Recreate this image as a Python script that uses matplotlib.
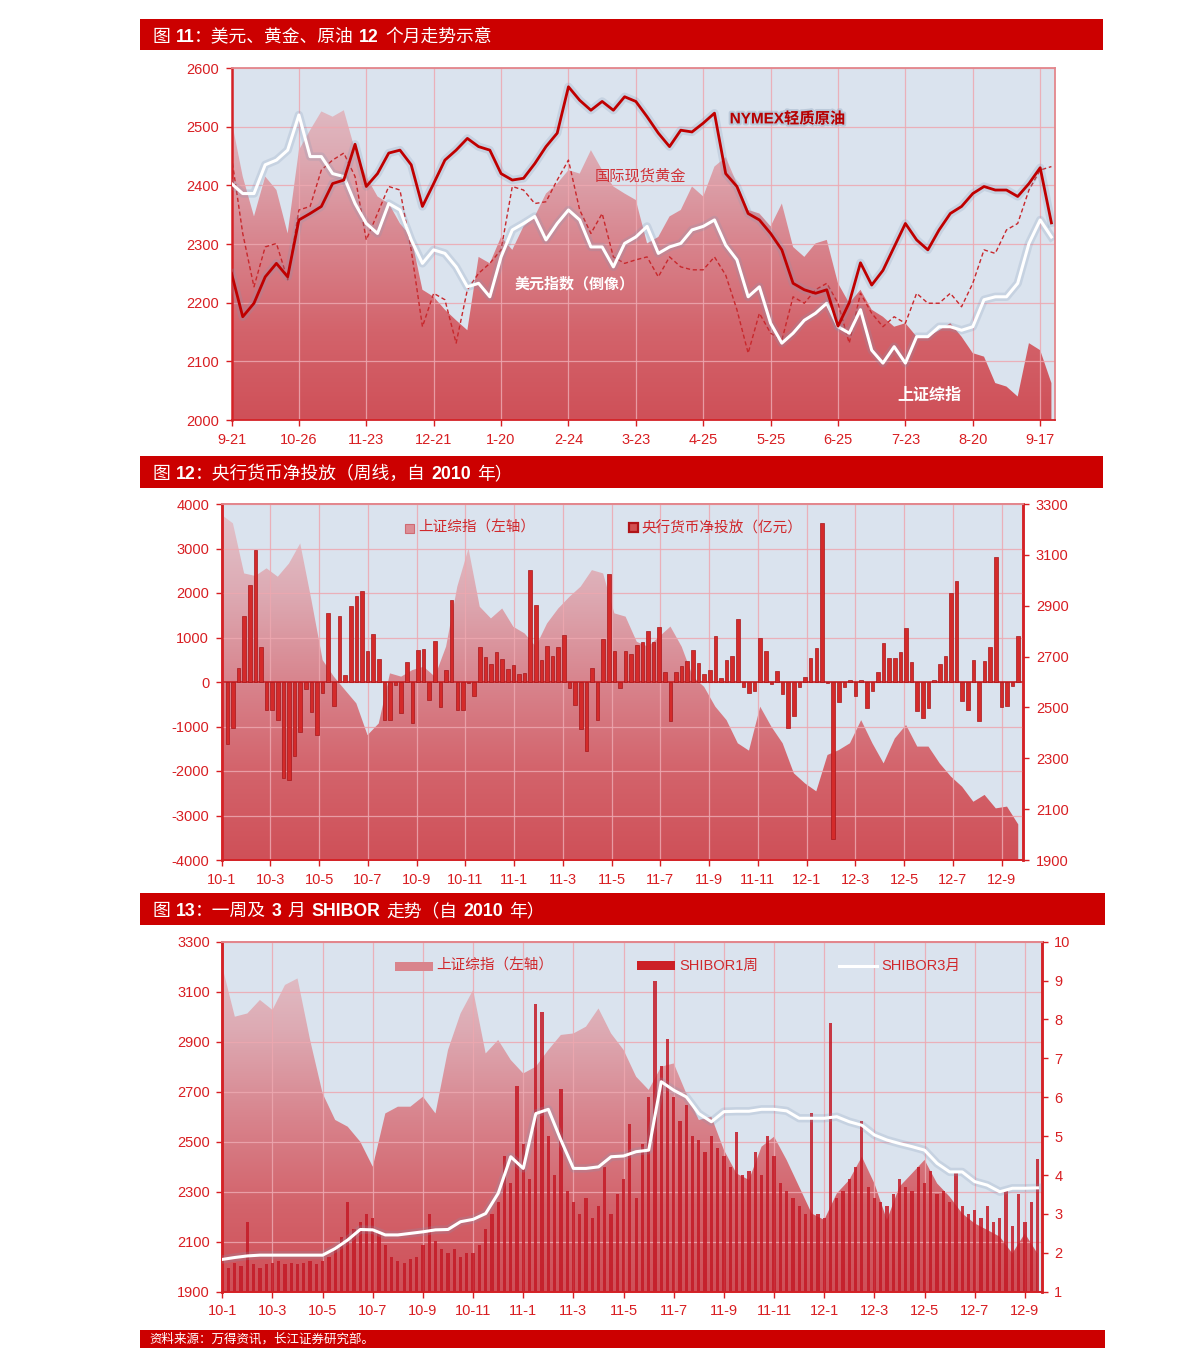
import numpy as np
import matplotlib
matplotlib.use('Agg')
import matplotlib.pyplot as plt
from matplotlib.colors import LinearSegmentedColormap
from matplotlib.patches import Rectangle, Polygon
from matplotlib.lines import Line2D
import matplotlib.patheffects as pe

plt.rcParams['font.family'] = ['Liberation Sans', 'Noto Sans CJK SC', 'DejaVu Sans']
plt.rcParams['axes.unicode_minus'] = False

# ------------------------------------------------------------------ data
# Panel 1 (图11): sampled every 1/6 of a tick interval
p1_labels = ['9-21', '10-26', '11-23', '12-21', '1-20', '2-24', '3-23',
             '4-25', '5-25', '6-25', '7-23', '8-20', '9-17']
oil = [2250, 2176, 2199, 2244, 2267, 2244, 2341, 2352, 2364, 2403,
       2409, 2470, 2398, 2420, 2455, 2460, 2435, 2364, 2403, 2443,
       2460, 2480, 2466, 2460, 2420, 2409, 2412, 2437, 2466, 2489,
       2568, 2545, 2528, 2543, 2528, 2551, 2543, 2517, 2489, 2466,
       2494, 2491, 2506, 2523, 2420, 2398, 2352, 2341, 2318, 2290,
       2233, 2222, 2216, 2222, 2160, 2200, 2268, 2230, 2255, 2295,
       2335, 2307, 2290, 2324, 2352, 2364, 2386, 2398, 2392, 2392,
       2381, 2403, 2430, 2336]
gold = [2449, 2318, 2227, 2295, 2301, 2239, 2358, 2364, 2426, 2443,
        2455, 2415, 2307, 2352, 2398, 2392, 2290, 2159, 2216, 2205,
        2131, 2222, 2250, 2267, 2290, 2398, 2392, 2369, 2372, 2409,
        2443, 2358, 2318, 2352, 2278, 2267, 2273, 2278, 2244, 2278,
        2261, 2256, 2256, 2278, 2247, 2188, 2114, 2182, 2148, 2136,
        2210, 2199, 2222, 2233, 2199, 2131, 2216, 2182, 2159, 2176,
        2165, 2216, 2199, 2199, 2216, 2193, 2233, 2290, 2284, 2324,
        2335, 2392, 2426, 2432]
usd_inv = [2403, 2386, 2386, 2435, 2443, 2460, 2520, 2449, 2449, 2420,
           2415, 2369, 2335, 2318, 2369, 2358, 2307, 2267, 2290, 2284,
           2261, 2227, 2233, 2210, 2278, 2324, 2335, 2347, 2307, 2335,
           2358, 2341, 2295, 2295, 2261, 2301, 2312, 2330, 2284, 2295,
           2301, 2324, 2330, 2341, 2298, 2273, 2210, 2227, 2165, 2131,
           2148, 2170, 2182, 2199, 2159, 2148, 2188, 2119, 2097, 2125,
           2097, 2142, 2142, 2159, 2159, 2153, 2159, 2205, 2210, 2210,
           2233, 2301, 2341, 2312]
sh_p1 = [2511, 2415, 2347, 2415, 2392, 2318, 2460, 2494, 2526, 2517,
         2528, 2460, 2415, 2381, 2369, 2335, 2312, 2222, 2210, 2188,
         2170, 2153, 2278, 2267, 2312, 2290, 2330, 2347, 2386, 2403,
         2426, 2420, 2460, 2426, 2398, 2386, 2375, 2301, 2312, 2347,
         2358, 2398, 2381, 2432, 2448, 2403, 2358, 2352, 2330, 2369,
         2295, 2278, 2301, 2307, 2233, 2199, 2222, 2188, 2176, 2159,
         2165, 2142, 2142, 2153, 2165, 2142, 2114, 2108, 2063, 2057,
         2040, 2131, 2119, 2063]

# Panel 2 (图12): weekly net injection (亿元) and index (every 2 weeks)
p2_labels = ['10-1', '10-3', '10-5', '10-7', '10-9', '10-11', '11-1', '11-3',
             '11-5', '11-7', '11-9', '11-11', '12-1', '12-3', '12-5', '12-7', '12-9']
net_inject = [-1390, -1040, 315, 1490, 2170, 2970, 790, -640, -620, -850,
              -2160, -2210, -1660, -1130, -160, -670, -1180, -250, 1550, -530,
              1480, 165, 1700, 1940, 2040, 700, 1080, 520, -850, -860,
              -60, -700, 440, -920, 730, 740, -400, 930, -560, 280,
              1850, -620, -640, -20, -320, 780, 560, 410, 670, 520,
              290, 380, 190, 210, 2520, 1730, 500, 820, 580, 790,
              1060, -130, -510, -1060, -1560, 310, -850, 970, 2430, 700,
              -140, 700, 620, 840, 910, 1150, 900, 1240, 220, -880,
              220, 350, 480, 730, 430, 190, 280, 1030, 100, 500,
              580, 1420, -110, -250, -210, 990, 700, -40, 240, -260,
              -1030, -760, -110, 110, 540, 760, 3570, -20, -3530, -460,
              -110, 50, -310, 50, -580, -210, 220, 880, 550, 550,
              670, 1210, 440, -660, -810, -590, 50, 400, 590, 2000,
              2280, -420, -620, 490, -880, 480, 790, 2810, -560, -530,
              -100, 1040]
sh_p2 = [3257, 3224, 3027, 3017, 3047, 3014, 3066, 3145, 2922, 2686,
         2621, 2568, 2516, 2391, 2437, 2634, 2621, 2647, 2660, 2621,
         2739, 2975, 3125, 2896, 2850, 2889, 2817, 2791, 2739, 2830,
         2889, 2935, 2975, 3040, 3027, 2870, 2857, 2758, 2739, 2778,
         2818, 2739, 2621, 2581, 2503, 2450, 2359, 2330, 2503, 2424,
         2359, 2241, 2201, 2170, 2313, 2332, 2359, 2450, 2359, 2280,
         2378, 2431, 2346, 2346, 2280, 2228, 2188, 2129, 2156, 2103,
         2110, 2040]

# Panel 3 (图13): index & SHIBOR 3M every half month, SHIBOR 1W every quarter month
p3_labels = p2_labels
sh_p3 = [3200, 3000, 3013, 3067, 3027, 3127, 3153, 2907, 2693, 2587,
         2560, 2500, 2400, 2613, 2640, 2640, 2680, 2613, 2867, 3013,
         3107, 2853, 2907, 2827, 2773, 2800, 2867, 2927, 2933, 2960,
         3033, 2933, 2867, 2760, 2707, 2800, 2813, 2693, 2587, 2600,
         2467, 2373, 2347, 2480, 2520, 2427, 2320, 2213, 2187, 2293,
         2347, 2440, 2333, 2187, 2320, 2373, 2427, 2333, 2280, 2213,
         2173, 2147, 2120, 2053, 2133, 2053]
shibor3m = [1.83, 1.88, 1.92, 1.94, 1.94, 1.94, 1.94, 1.94, 1.94, 2.11,
            2.33, 2.60, 2.59, 2.46, 2.46, 2.50, 2.54, 2.59, 2.60, 2.80,
            2.86, 3.01, 3.53, 4.47, 4.17, 5.58, 5.69, 4.90, 4.17, 4.17,
            4.21, 4.47, 4.49, 4.60, 4.64, 6.40, 6.18, 6.01, 5.58, 5.37,
            5.63, 5.64, 5.64, 5.69, 5.69, 5.65, 5.46, 5.46, 5.46, 5.50,
            5.37, 5.28, 5.03, 4.90, 4.81, 4.73, 4.64, 4.30, 4.08, 4.08,
            3.83, 3.74, 3.57, 3.66, 3.66, 3.67]
shibor1w = [1.7, 1.6, 1.75, 1.65, 2.8, 1.7, 1.6, 1.7,
            1.75, 1.8, 1.7, 1.75, 1.7, 1.75, 1.8, 1.7,
            1.8, 1.9, 2.1, 2.4, 3.3, 2.6, 2.8, 3.0,
            2.9, 2.5, 2.2, 1.9, 1.8, 1.75, 1.85, 1.9,
            2.2, 3.0, 2.3, 2.1, 2.0, 2.1, 1.9, 2.0,
            2.0, 2.2, 2.6, 3.0, 3.3, 4.5, 3.8, 6.3,
            4.8, 3.9, 8.4, 8.2, 5.0, 4.0, 6.2, 3.6,
            3.3, 3.0, 3.4, 2.9, 3.2, 4.2, 3.0, 3.5,
            3.9, 5.3, 3.4, 4.8, 6.0, 9.0, 6.8, 7.5,
            6.0, 5.4, 5.8, 5.0, 4.9, 4.6, 5.0, 4.7,
            4.5, 4.2, 5.1, 4.0, 4.1, 4.6, 4.0, 5.0,
            4.5, 3.8, 3.6, 3.4, 3.2, 3.0, 5.6, 3.0,
            2.9, 7.9, 3.4, 3.6, 3.9, 4.2, 5.4, 3.7,
            3.4, 3.3, 3.2, 3.5, 3.9, 3.7, 3.6, 4.2,
            3.8, 4.1, 3.5, 3.6, 3.3, 4.1, 3.2, 3.0,
            3.1, 2.9, 3.2, 2.8, 2.9, 3.6, 2.7, 3.5,
            2.8, 3.3, 4.4]

# ------------------------------------------------------------------ figure
W, H = 1191, 1368
fig = plt.figure(figsize=(W / 100, H / 100), dpi=100)
renderer = fig.canvas.get_renderer()

RED = '#CC0000'
TICK = '#D81E22'
BG = '#DAE3EE'
GRID = '#EDA8B0'
SPINE_SOFT = '#E3868C'
SPINE_STRONG = '#D42226'


def fx(px):
    return px / W


def fy(py):
    return 1 - py / H


def add_axes_px(x0, y0, x1, y1):
    return fig.add_axes([fx(x0), fy(y1), (x1 - x0) / W, (y1 - y0) / H])


def rect_px(x0, y0, x1, y1, **kw):
    r = Rectangle((fx(x0), fy(y1)), (x1 - x0) / W, (y1 - y0) / H,
                  transform=fig.transFigure, **kw)
    fig.add_artist(r)
    return r


def rich(x_px, y_base, parts, size, color='white'):
    x = x_px
    for s, bold, gap in parts:
        t = fig.text(fx(x), fy(y_base), s, fontsize=size, color=color,
                     fontweight='bold' if bold else 'normal',
                     ha='left', va='baseline')
        bb = t.get_window_extent(renderer)
        x += bb.width + gap


AREA_CMAP = LinearSegmentedColormap.from_list(
    'area', ['#CF5058', '#D3636B', '#D8848D', '#DDAAB3', '#E2C6CE'])


def gradient_area(ax, x, y, base, top, xlim):
    x = np.asarray(x, float)
    y = np.asarray(y, float)
    verts = np.column_stack([np.r_[x[0], x, x[-1]], np.r_[base, y, base]])
    poly = Polygon(verts, closed=True, facecolor='none', edgecolor='none')
    ax.add_patch(poly)
    grad = np.linspace(0, 1, 256).reshape(-1, 1)
    im = ax.imshow(grad, cmap=AREA_CMAP, aspect='auto', origin='lower',
                   extent=[xlim[0], xlim[1], base, top], zorder=0.5,
                   interpolation='bilinear')
    im.set_clip_path(poly)


def style_ticks(ax, which='both'):
    ax.tick_params(axis=which, colors=TICK, labelcolor=TICK, labelsize=10.5,
                   length=4, width=1, direction='out', pad=5)


glow = [pe.Stroke(linewidth=6, foreground='#7F97B5', alpha=0.22), pe.Normal()]

# ------------------------------------------------------------------ headers
rect_px(140, 19, 1103, 50, color=RED, lw=0)
rich(152, 42, [('图', False, 6), ('11', True, -1), ('：美元、黄金、原油', False, 6),
               ('12', True, 6), ('个月走势示意', False, 0)], 12.8)
rect_px(140, 456, 1103, 488, color=RED, lw=0)
rich(152, 479, [('图', False, 6), ('12', True, -1), ('：央行货币净投放（周线，自', False, 6),
                ('2010', True, 6), ('年）', False, 0)], 12.8)
rect_px(140, 893, 1105, 925, color=RED, lw=0)
rich(152, 916, [('图', False, 6), ('13', True, -1), ('：一周及', False, 6),
                ('3', True, 6), ('月', False, 6), ('SHIBOR', True, 6),
                ('走势（自', False, 6), ('2010', True, 6), ('年）', False, 0)], 12.8)
rect_px(140, 1330, 1105, 1348, color=RED, lw=0)
fig.text(fx(149), fy(1339), '资料来源：万得资讯，长江证券研究部。', fontsize=9,
         color='white', ha='left', va='center')

# ------------------------------------------------------------------ panel 1
ax1 = add_axes_px(231.5, 68, 1055, 420)
ax1.set_facecolor(BG)
t1 = np.arange(len(oil)) / 6.0
X1 = (0, 12.22)
gradient_area(ax1, t1, sh_p1, 2000, 2600, X1)
ax1.plot(t1, gold, color='#C8282C', lw=1.0, ls=(0, (3, 2)), zorder=3)
ax1.plot(t1, usd_inv, color='white', lw=2.2, zorder=4, path_effects=glow)
ax1.plot(t1, oil, color='#C00000', lw=2.0, zorder=5, path_effects=glow)
ax1.set_xlim(*X1)
ax1.set_ylim(2000, 2600)
ax1.set_xticks(np.arange(len(p1_labels)))
ax1.set_xticklabels(p1_labels)
ax1.set_yticks(np.arange(2000, 2601, 100))
ax1.grid(True, color=GRID, lw=0.9, alpha=0.85)
style_ticks(ax1)
for s in ax1.spines.values():
    s.set_color(SPINE_SOFT)
    s.set_linewidth(1.3)
ax1.spines['left'].set_color(SPINE_STRONG)
ax1.spines['left'].set_linewidth(1.8)
ax1.spines['bottom'].set_color(SPINE_STRONG)

lbl_glow = [pe.withStroke(linewidth=3, foreground='#9FB2C8', alpha=0.5)]
ax1.text(0.605, 0.855, 'NYMEX轻质原油', transform=ax1.transAxes, fontsize=11,
         fontweight='bold', color='#B80000', ha='left', va='center',
         path_effects=lbl_glow)
ax1.text(0.441, 0.693, '国际现货黄金', transform=ax1.transAxes, fontsize=11,
         color='#D0343A', ha='left', va='center')
ax1.text(0.344, 0.387, '美元指数（倒像）', transform=ax1.transAxes, fontsize=10.8,
         fontweight='bold', color='white', ha='left', va='center')
ax1.text(0.809, 0.071, '上证综指', transform=ax1.transAxes, fontsize=11.5,
         fontweight='bold', color='white', ha='left', va='center')

# ------------------------------------------------------------------ panel 2
ax2 = add_axes_px(221.7, 504, 1023.3, 860)
ax2r = ax2.twinx()
ax2.set_zorder(ax2r.get_zorder() + 1)
ax2.patch.set_visible(False)
ax2r.patch.set_visible(True)
ax2r.set_facecolor(BG)
X2 = (0, 142.9)
x_area2 = np.arange(len(sh_p2)) * 2.0
gradient_area(ax2r, x_area2, sh_p2, 1900, 3300, X2)
x_bar2 = np.arange(1, len(net_inject) + 1)
ax2.bar(x_bar2, net_inject, width=0.64, color='#D42A2A', edgecolor='#A8161A',
        linewidth=0.5, zorder=3)
ax2.axhline(0, color='#C81E22', lw=1.2, zorder=2.5)
ax2.set_xlim(*X2)
ax2r.set_xlim(*X2)
ax2.set_ylim(-4000, 4000)
ax2r.set_ylim(1900, 3300)
ax2.set_yticks(np.arange(-4000, 4001, 1000))
ax2r.set_yticks(np.arange(1900, 3301, 200))
ax2.set_xticks(np.arange(len(p2_labels)) * 8.69)
ax2.set_xticklabels(p2_labels)
ax2.grid(True, color=GRID, lw=0.9, alpha=0.85)
ax2r.grid(False)
style_ticks(ax2)
style_ticks(ax2r)
for a in (ax2, ax2r):
    for s in a.spines.values():
        s.set_color(SPINE_SOFT)
        s.set_linewidth(1.3)
    a.spines['left'].set_color(SPINE_STRONG)
    a.spines['left'].set_linewidth(1.8)
    a.spines['right'].set_color(SPINE_STRONG)
    a.spines['right'].set_linewidth(1.8)
    a.spines['bottom'].set_color(SPINE_STRONG)

# legend panel 2
rect_px(405, 524, 414, 533, facecolor='#DC8E96', edgecolor='#D06A72', lw=0.8)
fig.text(fx(418), fy(528), '上证综指（左轴）', fontsize=10.5, color='#D0282C',
         ha='left', va='center')
rect_px(629, 523, 638, 532, facecolor='#D25050', edgecolor='#B01418', lw=1.6)
fig.text(fx(641), fy(528), '央行货币净投放（亿元）', fontsize=10.5, color='#D0282C',
         ha='left', va='center')

# ------------------------------------------------------------------ panel 3
ax3 = add_axes_px(222.3, 941.7, 1041.7, 1291.7)
ax3r = ax3.twinx()
ax3.set_facecolor(BG)
X3 = (0, 32.67)
m_half = np.arange(len(sh_p3)) * 0.5
gradient_area(ax3, m_half, sh_p3, 1900, 3300, X3)
m_q = np.arange(len(shibor1w)) * 0.25
ax3r.bar(m_q, shibor1w, width=0.13, color='#C41A26', alpha=0.85, linewidth=0,
         zorder=2)
ax3r.plot(m_half, shibor3m, color='white', lw=2.2, zorder=4, path_effects=glow)
ax3.set_xlim(*X3)
ax3r.set_xlim(*X3)
ax3.set_ylim(1900, 3300)
ax3r.set_ylim(1, 10)
ax3.set_yticks(np.arange(1900, 3301, 200))
ax3r.set_yticks(np.arange(1, 11, 1))
ax3.set_xticks(np.arange(len(p3_labels)) * 2)
ax3.set_xticklabels(p3_labels)
ax3.grid(True, color=GRID, lw=0.9, alpha=0.85)
ax3r.grid(False)
style_ticks(ax3)
style_ticks(ax3r)
for a in (ax3, ax3r):
    for s in a.spines.values():
        s.set_color(SPINE_SOFT)
        s.set_linewidth(1.3)
    a.spines['left'].set_color(SPINE_STRONG)
    a.spines['left'].set_linewidth(1.8)
    a.spines['right'].set_color(SPINE_STRONG)
    a.spines['right'].set_linewidth(1.8)
    a.spines['bottom'].set_color(SPINE_STRONG)

# legend panel 3
rect_px(395, 962, 433, 971, facecolor='#D9848C', edgecolor='none')
fig.text(fx(436), fy(966), '上证综指（左轴）', fontsize=10.5, color='#D0282C',
         ha='left', va='center')
rect_px(637, 961, 675, 970, facecolor='#CC2026', edgecolor='none')
fig.text(fx(679), fy(966), 'SHIBOR1周', fontsize=10.5, color='#D0282C',
         ha='left', va='center')
fig.add_artist(Line2D([fx(839), fx(877)], [fy(966), fy(966)], color='white',
                      lw=2.2, transform=fig.transFigure))
fig.text(fx(881), fy(966), 'SHIBOR3月', fontsize=10.5, color='#D0282C',
         ha='left', va='center')

fig.savefig('out.png', dpi=100)
